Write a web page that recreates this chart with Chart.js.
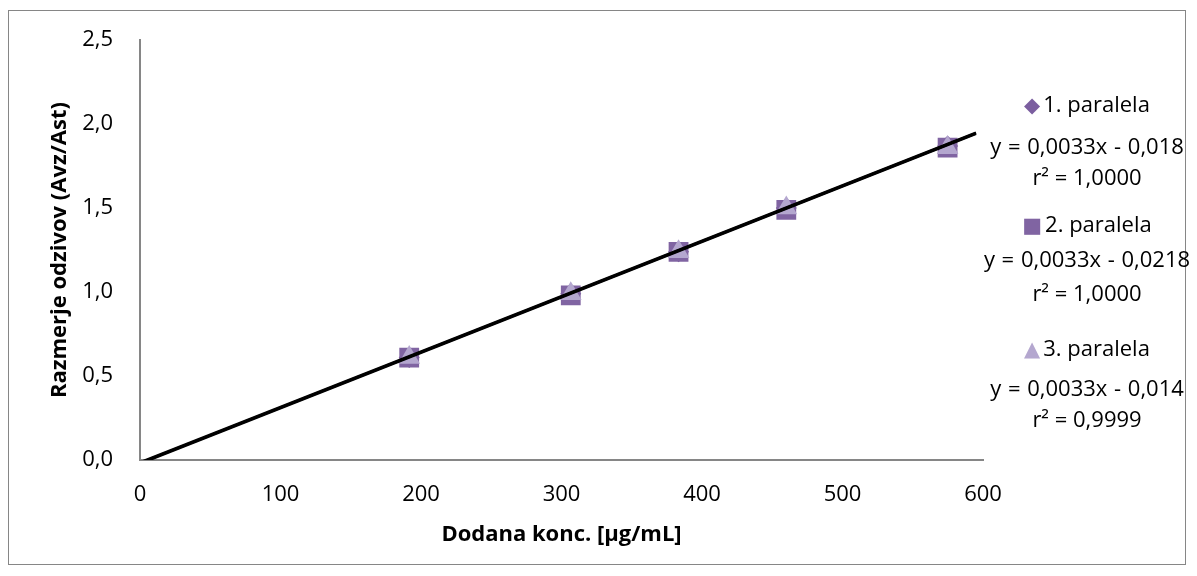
<!DOCTYPE html>
<html>
<head>
<meta charset="utf-8">
<script src="https://cdn.jsdelivr.net/npm/chart.js@4.4.1/dist/chart.umd.min.js"></script>
<style>
html,body{margin:0;padding:0;background:#fff;}
#wrap{position:relative;width:1197px;height:576px;font-family:"Open Sans",sans-serif;}
#frame{position:absolute;left:8px;top:10px;width:1178px;height:555px;border:1px solid #868686;box-sizing:border-box;}
.lg{position:absolute;left:967px;width:240px;text-align:center;font-size:22px;line-height:28px;color:#000;white-space:nowrap;}
.eq{word-spacing:1px;}
.mk{font-family:"DejaVu Sans";font-size:21px;margin-right:3px;}
</style>
</head>
<body>
<div id="wrap">
<div id="frame"></div>
<canvas id="c" width="1197" height="576"></canvas>
<div id="legend"></div>
</div>
<script>
// measured points (concentration in µg/mL)
const conc = [191.6, 306.6, 383.3, 460, 574.8]
const par1 = [0.61, 0.99, 1.24, 1.50, 1.87]
const par2 = [0.61, 0.98, 1.24, 1.49, 1.86]
const par3 = [0.61, 0.99, 1.24, 1.50, 1.86]

// trendline end points
const trendX = [0, 595]
const trend1 = [-0.018, 1.946]
const trend2 = [-0.022, 1.942]
const trend3 = [-0.014, 1.950]

const names = ["1. paralela", "2. paralela", "3. paralela"]
const equations = ["y = 0,0033x - 0,018", "y = 0,0033x - 0,0218", "y = 0,0033x - 0,014"]
const rsq = ["r² = 1,0000", "r² = 1,0000", "r² = 0,9999"]

const colors = ["#7B5E9F", "#8064A2", "#B4A7CF"]
const shapes = ["rectRot", "rect", "triangle"]
const radii = [10.5, 14, 12.5]

function pts(xs, ys){
return xs.map((x,i)=>({x:x, y:ys[i]}))
}

const series = [par1, par2, par3]
const trends = [trend1, trend2, trend3]
const datasets = []

series.forEach((s,i)=>{
datasets.push({
label:names[i],
data:pts(conc,s),
showLine:false,
pointStyle:shapes[i],
pointRadius:radii[i],
pointBackgroundColor:colors[i],
pointBorderColor:colors[i],
pointBorderWidth:0,
order:3-i
})
})

trends.forEach((t,i)=>{
datasets.push({
label:"trend"+(i+1),
data:pts(trendX,t),
showLine:true,
borderColor:"#000",
borderWidth:2.5,
pointRadius:0,
order:0
})
})

new Chart(document.getElementById("c"),{
type:"scatter",
data:{datasets:datasets},
options:{
responsive:false,
animation:false,
layout:{padding:{left:43,top:40,right:214,bottom:24}},
plugins:{legend:{display:false},tooltip:{enabled:false}},
scales:{
x:{
type:"linear",min:0,max:600,
ticks:{stepSize:100,padding:22,color:"#000",font:{family:"Open Sans",size:22}},
grid:{display:false,drawTicks:false},
border:{color:"#868686",width:2},
title:{display:true,text:"Dodana konc. [µg/mL]",color:"#000",font:{family:"Open Sans",size:22,weight:"bold"}},
afterFit:s=>{s.height=92}
},
y:{
min:0,max:2.5,
ticks:{stepSize:0.5,padding:27,color:"#000",font:{family:"Open Sans",size:22},
callback:v=>v.toFixed(1).replace(".",",")},
grid:{display:false,drawTicks:false},
border:{color:"#868686",width:2},
title:{display:true,text:"Razmerje odzivov (Avz/Ast)",color:"#000",font:{family:"Open Sans",size:22,weight:"bold"}},
afterFit:s=>{s.width=97}
}
}
}
})

// legend on the right
const legend = document.getElementById("legend")
const glyphs = ["◆","■","▲"]
const rows = [[103,145,176],[223,258,292],[347,387,418]]
names.forEach((n,i)=>{
const r = rows[i]
legend.innerHTML += `
<div class="lg" style="top:${r[0]-14}px"><span class="mk" style="color:${colors[i]}">${glyphs[i]}</span>${n}</div>
<div class="lg eq" style="top:${r[1]-14}px">${equations[i]}</div>
<div class="lg" style="top:${r[2]-14}px">${rsq[i]}</div>
`
})
</script>
</body>
</html>
